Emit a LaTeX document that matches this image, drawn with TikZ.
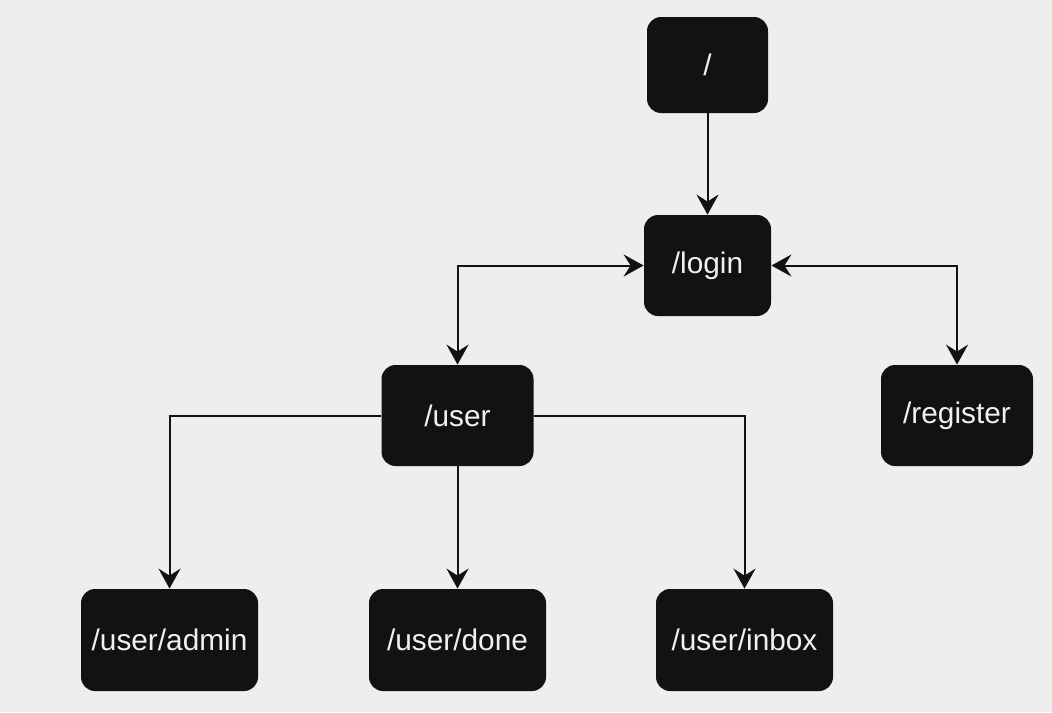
\documentclass[tikz,border=0pt]{standalone}
\usepackage{fontspec}
\setmainfont{Liberation Sans}
\usetikzlibrary{arrows.meta}
\definecolor{bgcol}{HTML}{EEEEEE}
\definecolor{boxcol}{HTML}{121212}
\definecolor{txtcol}{HTML}{F0F0F0}

\begin{document}
\begin{tikzpicture}[x=0.5pt,y=-0.5pt,
  route/.style={fill=boxcol,rounded corners=7pt,inner sep=0pt,text=txtcol,
    font=\fontsize{14.9}{18}\selectfont,minimum height=50.5pt},
  link/.style={draw=boxcol,line width=1pt,-{Stealth[length=10pt,width=11pt,inset=3.5pt]}},
  dlink/.style={link,{Stealth[length=10pt,width=11pt,inset=3.5pt]}-{Stealth[length=10pt,width=11pt,inset=3.5pt]}}]
  \fill[bgcol] (0,0) rectangle (1052,712);
  % routes
  \node[route,minimum width=60.5pt,minimum height=48pt] (root) at (707.5,65) {/};
  \node[route,minimum width=63.5pt] (login) at (707.5,265.5) {/login};
  \node[route,minimum width=76pt] (user) at (457.5,415.5) {/user};
  \node[route,minimum width=76pt] (register) at (957,415.5) {/register};
  \node[route,minimum width=88.5pt,minimum height=51pt] (admin) at (169.5,640) {/user/admin};
  \node[route,minimum width=88.5pt,minimum height=51pt] (done) at (457.5,640) {/user/done};
  \node[route,minimum width=88.5pt,minimum height=51pt] (inbox) at (744.5,640) {/user/inbox};
  % links
  \draw[link] (root) -- (login);
  \draw[dlink] (login.west) -| (user.north);
  \draw[dlink] (login.east) -| (register.north);
  \draw[link] (user.west) -| (admin.north);
  \draw[link] (user) -- (done);
  \draw[link] (user.east) -| (inbox.north);
\end{tikzpicture}
\end{document}
